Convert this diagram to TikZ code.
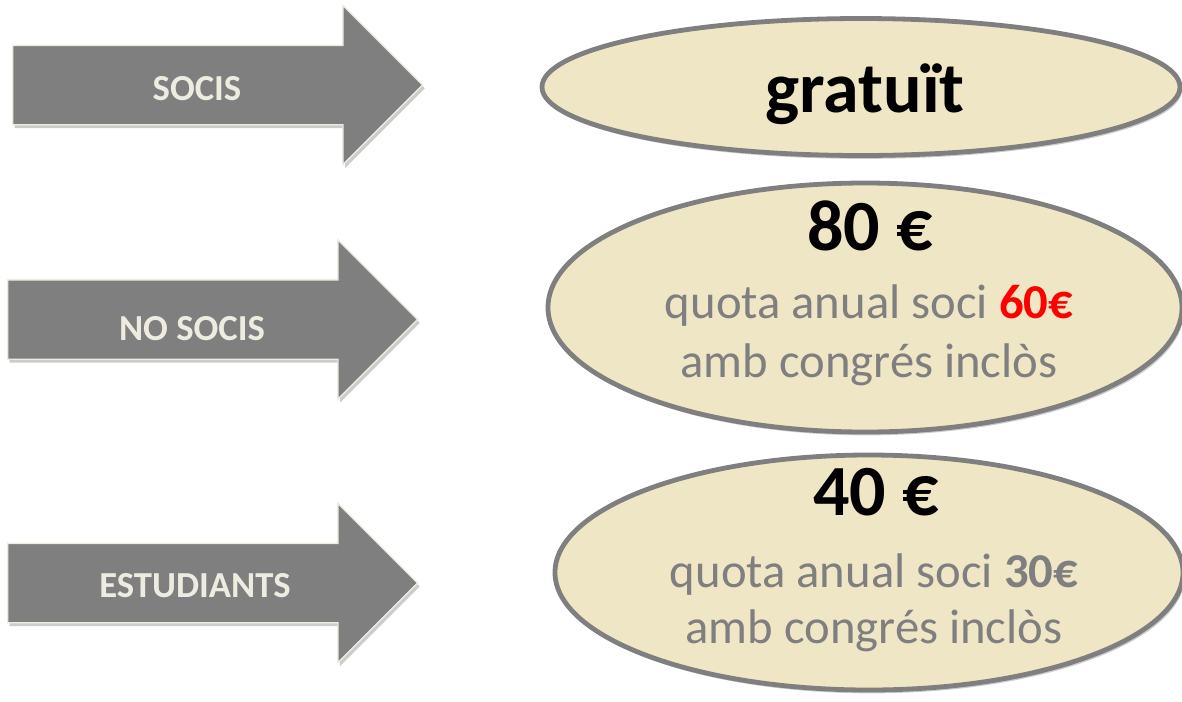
\documentclass[tikz,border=0pt]{standalone}
\usepackage{fontspec}
\setmainfont{Carlito}
\usetikzlibrary{shapes.arrows,shapes.geometric,shadows,calc}

\definecolor{arrowgray}{HTML}{7F7F7F}
\definecolor{paper}{HTML}{EEECE1}
\definecolor{cream}{HTML}{EEE6C4}
\definecolor{rimgray}{HTML}{7F7F7F}

\begin{document}
\begin{tikzpicture}[x=0.75pt, y=-0.75pt,
    pointer/.style={single arrow, single arrow head extend=30pt,
      single arrow head indent=0pt, inner xsep=0pt, inner ysep=29.25pt,
      minimum height=307.5pt, anchor=tail, fill=arrowgray, draw=paper, line width=1pt,
      drop shadow={shadow xshift=1.5pt, shadow yshift=-2.5pt, fill=black!20, opacity=1}},
    pointertext/.style={anchor=base, text=paper, font=\bfseries\fontsize{27.5}{32}\selectfont},
    fee/.style={ellipse, fill=cream, draw=rimgray, line width=3.6pt, inner sep=0pt,
      drop shadow={shadow xshift=1.5pt, shadow yshift=-2.5pt, fill=black!20, opacity=1}},
    price/.style={anchor=base, font=\bfseries\fontsize{54}{60}\selectfont},
    note/.style={anchor=base, text=rimgray, font=\fontsize{36.5}{43}\selectfont}]
    \useasboundingbox (0,0) rectangle (1182,701);

    \node[pointer] (socis) at (12,85) {};
    \node[pointer] (nosocis) at (7,319.5) {};
    \node[pointer] (estud) at (7,583) {};
    \node[pointertext] (socislabel) at ($(socis.tail)+(185,15)$) {SOCIS};
    \node[pointertext] (nosocislabel) at ($(nosocis.tail)+(185,20.5)$) {NO SOCIS};
    \node[pointertext] (estudlabel) at ($(estud.tail)+(188,14)$) {ESTUDIANTS};

    \node[fee, minimum width=478.5pt, minimum height=102.75pt] (free) at (861,87) {};
    \node[fee, minimum width=475.5pt, minimum height=186.75pt] (full) at (865,307.5) {};
    \node[fee, minimum width=471pt, minimum height=176.25pt] (student) at (869,572.5) {};

    \node[price] (freeprice) at (865,112) {gratuït};
    \node[price] (fullprice) at (870,250) {80 €};
    \node[note] (fullfee) at (869,318) {quota anual soci {\bfseries\color{red}60€}};
    \node[note] (fullcongress) at (869,377) {amb congrés inclòs};
    \node[price] (studentprice) at (876,515) {40 €};
    \node[note] (studentfee) at (874,587) {quota anual soci {\bfseries 30€}};
    \node[note] (studentcongress) at (874,643) {amb congrés inclòs};
  \end{tikzpicture}
\end{document}
